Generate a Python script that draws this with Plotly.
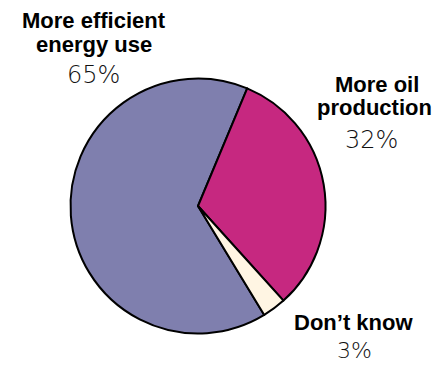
import plotly.graph_objects as go

labels = ["More efficient energy use", "More oil production", "Don\u2019t know"]
values = [65, 32, 3]
colors = ["#7f7fae", "#c62880", "#fff5e3"]

W, H = 447, 365
cx, cy, r = 198, 206, 127.5

fig = go.Figure(go.Pie(
    labels=labels, values=values, sort=False, direction="clockwise",
    rotation=148.7, textinfo="none", hoverinfo="label+percent",
    marker=dict(colors=colors, line=dict(color="black", width=2)),
    domain=dict(x=[(cx - r) / W, (cx + r) / W],
                y=[(H - cy - r) / H, (H - cy + r) / H]),
    showlegend=False,
))

BOLD = dict(family="Liberation Sans, Arial, sans-serif", size=22, color="black", weight="bold")
LIGHT = dict(family="DejaVu Sans Light, DejaVu Sans ExtraLight, DejaVu Sans, sans-serif", size=24, color="#111111", weight=200)
LIGHT_SM = dict(LIGHT, size=22)

# (text, center x px, baseline y px, font)
label_lines = [
    ("More efficient", 94, 28, BOLD),
    ("energy use", 94, 52, BOLD),
    ("65%", 93, 83, LIGHT),
    ("More oil", 377, 92, BOLD),
    ("production", 374, 115, BOLD),
    ("32%", 371, 148, LIGHT),
    ("Don\u2019t know", 353, 330, BOLD),
    ("3%", 354, 358, LIGHT_SM),
]

for text, x, base, font in label_lines:
    mid = base - 0.35 * font["size"]
    fig.add_annotation(text=text, x=x / W, y=1 - mid / H, xref="paper", yref="paper",
                       xanchor="center", yanchor="middle", showarrow=False, font=font)

fig.update_layout(width=W, height=H, margin=dict(l=0, r=0, t=0, b=0),
                  paper_bgcolor="white", plot_bgcolor="white")
fig.write_html("out.html")
